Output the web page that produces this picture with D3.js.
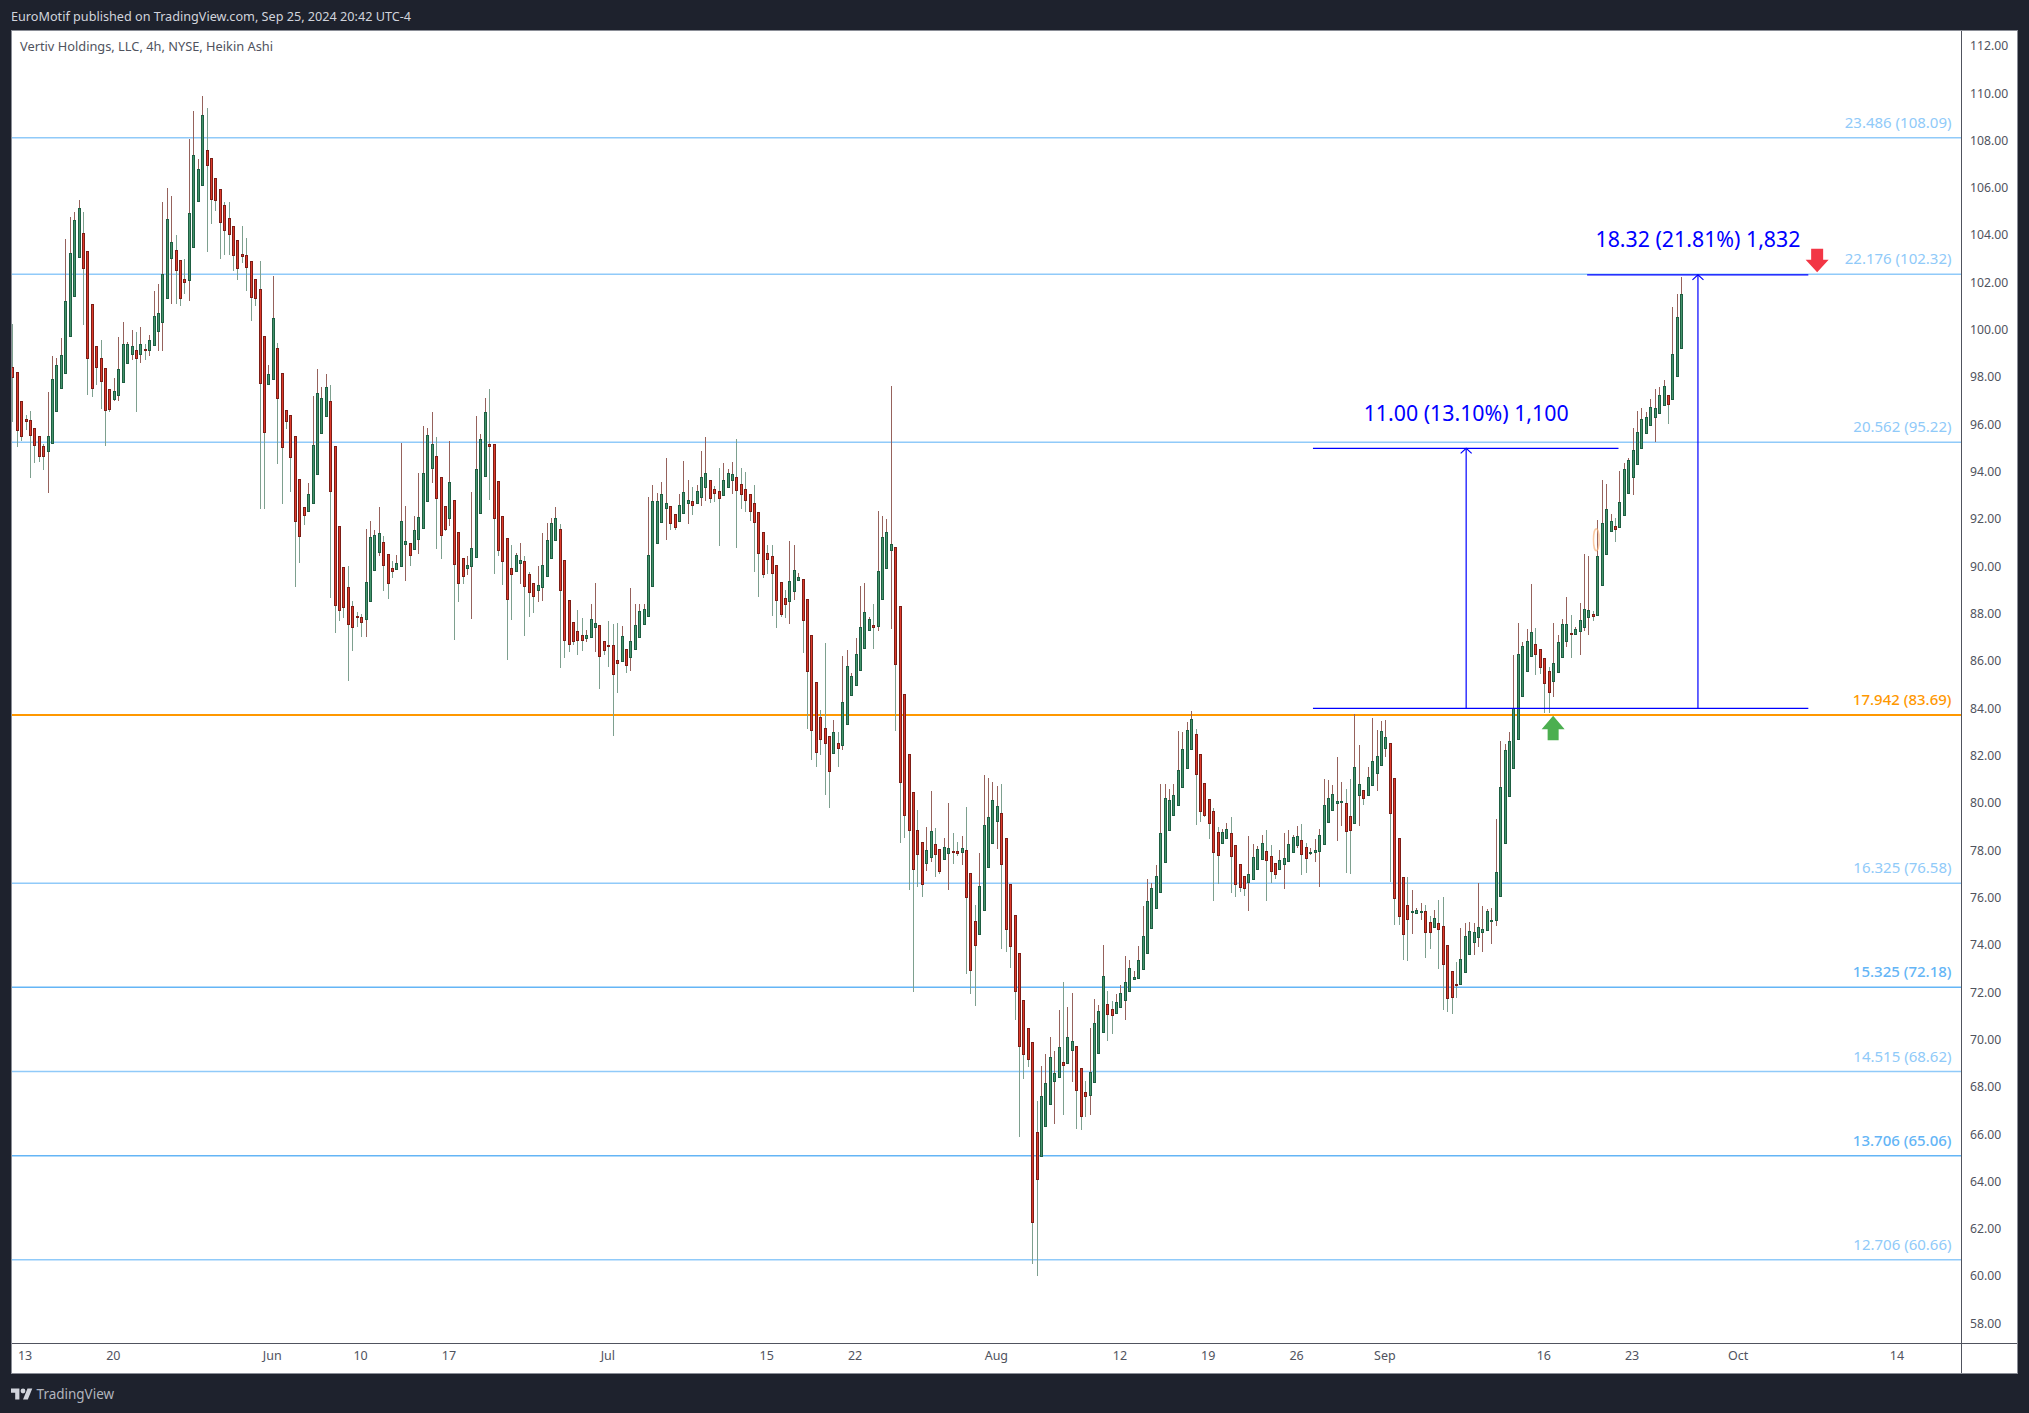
<!DOCTYPE html>
<html><head><meta charset="utf-8">
<script src="https://cdn.jsdelivr.net/npm/d3@7"></script>
<style>html,body{margin:0;padding:0;background:#1e222d}svg{display:block}text{font-family:"Noto Sans",sans-serif}</style>
</head><body><div id="c"></div>
<script>
const opens=[98.39,98.18,96.95,96.19,96.15,95.81,95.47,95.05,94.82,95.16,
96.51,97.49,98.16,99.68,101.41,103.02,104.05,103.29,101.05,99.27,
98.8,98.34,97.45,97.02,97.19,97.73,98.54,98.92,99.1,98.92,
99.14,99.08,99.3,99.89,100.27,101.29,102.98,103.33,102.9,102.1,
102.05,103.45,105.38,106.06,107.55,107.22,106.37,105.91,105.23,104.68,
104.34,103.75,103.16,103.12,102.86,102.1,101.68,99.69,97.67,97.88,
99.19,98.13,96.57,96.36,95.47,93.65,92.47,92.29,92.62,93.85,
95.58,96.3,96.95,95.05,91.67,89.93,89.09,88.28,87.88,87.82,
87.72,88.48,89.83,90.55,90.99,90.48,89.89,89.83,89.96,90.89,
90.95,90.68,91.1,91.57,92.71,94.1,94.63,93.74,92.51,91.99,
92.77,91.41,90.31,89.9,89.96,90.34,92.2,93.77,95.13,95.13,
93.57,92.09,91.16,89.89,89.75,90.09,90.19,89.64,89.26,88.95,
89.07,89.54,90.3,91.06,91.54,90.23,88.54,87.61,87.23,87.06,
86.92,87.0,87.38,87.48,86.81,86.65,86.64,86.0,85.95,86.47,
86.12,86.45,86.96,87.51,87.85,89.12,90.93,91.82,92.41,92.51,
92.17,91.86,92.22,92.64,92.72,92.64,92.89,93.32,93.61,93.23,
93.15,92.98,93.32,93.61,93.74,93.44,93.23,93.02,92.64,92.26,
91.41,90.53,90.4,90.02,89.3,88.62,88.48,88.92,89.37,89.43,
88.58,87.06,85.07,83.59,83.13,82.79,82.07,82.49,82.41,83.28,
84.51,84.93,85.57,86.49,87.26,87.48,87.43,88.57,89.88,90.64,
90.78,88.28,84.57,82.04,80.44,78.82,78.32,77.41,77.67,78.24,
78.03,77.59,77.85,77.94,77.94,77.88,77.98,77.01,74.97,74.45,
75.44,77.25,78.3,79.19,79.55,78.48,76.54,75.23,73.62,71.63,
70.48,69.85,66.05,65.03,66.29,67.23,68.2,68.36,69.01,68.96,
69.51,69.69,68.75,67.75,67.65,68.15,69.38,70.27,71.47,71.25,
71.13,71.33,71.62,72.0,72.51,72.56,72.93,73.61,74.71,75.52,
76.2,77.46,78.82,79.45,79.87,80.63,81.44,82.23,82.88,82.04,
80.81,80.13,79.63,78.74,78.27,78.48,78.69,78.19,77.38,76.88,
76.62,76.78,77.2,77.6,77.93,77.72,77.43,77.2,77.38,77.51,
77.88,78.22,78.39,78.1,77.86,77.87,77.91,78.25,79.14,79.66,
79.98,80.03,79.99,79.41,79.1,80.28,80.5,80.32,80.72,81.21,
81.56,82.27,82.49,81.01,78.48,76.83,75.65,75.38,75.34,75.38,
75.39,74.93,74.7,74.88,74.76,73.95,72.86,72.32,72.29,72.8,
73.56,74.07,74.28,74.49,74.57,75.0,75.0,76.01,78.29,80.24,
81.42,82.68,84.46,85.52,86.15,86.67,86.46,86.08,85.53,85.1,
85.48,86.11,86.79,87.16,87.11,87.21,87.42,87.8,87.96,87.93,
89.16,90.47,91.44,91.66,91.61,92.11,93.09,93.76,94.31,94.95,
95.58,95.93,96.29,96.48,96.81,97.2,97.02,97.99,99.22];
const closes=[97.96,95.71,95.46,96.09,95.5,95.08,94.61,94.61,95.47,97.88,
98.47,98.89,101.2,103.2,104.61,105.1,102.55,98.75,97.48,98.37,
97.82,96.55,96.6,97.37,98.3,99.35,99.35,99.27,98.75,99.35,
99.08,99.52,100.54,100.66,102.31,104.64,103.67,102.47,101.29,101.96,
104.89,107.34,106.75,109.03,106.9,105.47,105.43,104.5,104.16,103.99,
103.1,102.55,103.06,102.6,101.33,101.29,97.71,95.63,98.09,100.45,
97.06,94.99,96.09,94.57,91.86,91.23,92.12,93.02,95.09,97.29,
97.08,97.54,93.13,88.31,88.14,88.23,87.51,87.38,87.83,87.59,
89.3,91.2,91.29,91.37,90.0,89.24,89.75,90.1,91.88,91.03,
90.43,91.5,92.05,93.91,95.51,95.13,92.84,91.27,91.53,93.53,
90.05,89.24,89.54,90.03,90.74,94.08,95.34,96.49,95.06,91.99,
90.64,90.17,88.57,89.62,90.44,90.23,89.12,88.86,88.69,89.17,
90.02,91.07,91.79,92.0,88.95,86.83,86.66,86.79,86.83,86.83,
87.06,87.74,87.57,86.16,86.45,86.61,85.4,85.86,87.02,85.78,
86.81,87.48,88.07,88.16,90.44,92.72,92.72,93.02,92.64,91.78,
91.61,92.55,93.1,92.77,92.55,93.15,93.74,93.91,92.85,93.06,
92.85,93.61,93.91,93.86,93.19,93.02,92.77,92.3,91.84,90.53,
89.62,90.27,89.68,88.52,87.93,88.36,89.34,89.81,89.51,87.68,
85.52,83.03,82.1,82.65,82.49,81.31,82.96,82.28,84.23,85.75,
85.33,86.26,87.4,88.03,87.74,87.38,89.76,91.2,91.41,90.91,
85.82,80.84,79.45,78.82,77.2,77.8,76.54,77.98,78.79,77.8,
77.12,78.11,78.06,77.91,77.86,78.06,75.99,72.93,73.95,76.46,
79.03,79.37,80.1,79.84,77.41,74.63,73.92,72.0,69.67,69.33,
69.17,62.23,64.06,67.57,68.12,69.22,68.54,69.64,68.88,70.06,
69.9,67.82,66.71,67.6,68.62,70.66,71.16,72.65,71.03,70.99,
71.58,71.93,72.4,72.99,72.6,73.33,74.34,75.82,76.38,76.88,
78.69,80.18,80.1,80.31,81.36,82.25,83.06,83.51,81.18,79.61,
79.45,79.11,77.88,77.75,78.74,78.87,77.72,76.54,76.39,76.36,
76.96,77.69,78.03,78.27,77.54,77.09,76.96,77.56,77.64,78.24,
78.53,78.58,77.79,77.62,77.9,77.97,78.6,79.9,80.17,80.34,
80.05,80.05,78.8,78.8,81.48,80.76,80.15,81.06,81.73,81.94,
83.0,82.75,79.52,75.94,75.17,74.41,75.04,75.41,75.45,75.41,
74.49,74.49,75.1,74.62,73.14,71.7,71.74,72.28,73.36,74.33,
74.55,74.5,74.72,74.63,75.39,75.03,77.04,80.63,82.21,82.58,
83.97,86.27,86.59,86.8,87.18,86.23,85.69,85.01,84.63,85.87,
86.76,87.52,87.52,87.11,87.31,87.69,88.16,88.11,87.89,90.41,
91.79,92.38,91.87,91.52,92.68,94.07,94.47,94.89,95.65,96.19,
96.27,96.69,96.65,97.22,97.6,96.81,98.93,100.5,101.49];
const highs=[100.21,98.18,96.95,96.37,96.54,95.81,95.47,95.13,97.34,98.87,
98.77,99.61,103.81,104.72,104.95,105.45,104.95,103.29,101.05,99.27,
99.53,98.34,97.45,97.94,99.67,100.3,99.44,99.96,99.88,100.1,
99.35,99.77,101.61,101.9,105.37,105.95,105.62,103.98,102.9,102.96,
108.03,109.22,107.19,109.85,109.33,107.22,106.37,105.91,105.39,105.39,
104.34,103.75,104.36,103.85,102.86,102.1,102.88,99.69,98.48,102.24,
99.4,98.13,96.57,96.36,95.47,93.65,92.47,93.48,97.18,98.32,
97.56,98.11,97.64,95.05,91.67,89.93,89.99,88.5,88.05,87.96,
91.55,91.88,91.5,92.47,91.24,90.48,90.2,90.45,95.19,92.53,
90.95,92.1,93.92,95.91,95.82,96.5,95.43,93.74,92.51,95.26,
92.77,91.41,90.31,90.41,93.12,96.33,95.57,97.09,97.47,95.13,
93.57,92.09,91.16,90.88,90.54,90.96,90.41,89.72,89.26,89.99,
91.38,91.81,92.02,92.47,91.77,90.23,88.54,87.61,88.12,87.79,
87.28,88.38,89.27,87.48,86.81,87.66,87.54,87.58,87.45,86.47,
89.06,88.38,88.38,88.38,92.91,93.41,93.08,93.54,94.55,92.51,
92.17,93.03,94.43,93.62,93.33,93.41,94.84,95.44,93.61,93.37,
94.13,94.34,94.09,94.39,95.36,94.13,93.96,93.02,93.41,92.26,
91.41,90.88,90.88,90.02,89.3,88.98,91.05,90.88,89.68,89.43,
88.58,87.06,85.07,83.9,86.72,82.79,83.48,82.98,86.19,86.44,
85.48,86.93,89.14,89.27,87.85,88.38,92.31,92.1,91.98,97.6,
90.78,88.28,84.57,82.04,80.44,79.69,78.32,78.96,80.49,78.92,
78.03,78.49,79.98,78.71,78.33,78.59,79.81,77.01,75.66,77.85,
81.17,81.02,80.87,80.7,80.78,78.48,76.54,75.23,73.62,71.63,
70.48,69.85,67.38,68.87,69.37,70.08,69.5,71.23,72.4,71.36,
71.93,69.69,68.75,68.22,70.48,71.7,71.42,73.98,72.04,71.6,
71.91,72.28,73.51,73.33,72.88,73.93,75.63,76.76,76.6,77.36,
80.78,80.78,80.55,80.78,83.03,82.98,83.41,83.87,83.09,82.04,
80.81,80.13,79.76,78.95,78.88,79.13,79.37,78.19,77.38,76.88,
78.59,78.25,78.16,78.62,78.83,78.2,77.43,78.0,78.71,78.83,
78.62,79.01,79.07,78.27,78.05,78.45,78.86,80.98,80.94,80.72,
81.9,80.86,80.56,80.98,83.73,82.42,80.5,81.48,83.56,83.06,
83.42,83.48,82.49,81.01,78.48,76.83,76.84,76.29,75.53,75.74,
75.66,75.19,75.45,75.87,76.0,73.95,72.86,73.25,74.69,74.9,
74.94,74.9,76.59,75.62,75.48,75.53,79.29,82.59,82.46,82.97,
86.23,87.56,86.76,87.31,89.23,87.35,86.46,86.08,85.73,87.56,
87.07,87.75,88.68,87.92,87.39,88.42,90.49,90.41,88.09,91.93,
93.62,93.45,92.19,92.0,94.0,94.33,94.55,95.81,96.53,96.65,
96.48,97.03,97.46,97.54,97.85,97.2,100.92,101.48,102.2];
const lows=[96.09,95.02,95.27,95.74,93.71,94.34,94.39,94.05,93.08,95.16,
96.51,97.49,98.16,99.68,101.41,103.02,100.17,97.22,97.14,97.64,
96.62,95.06,96.5,96.98,96.96,97.73,98.54,98.69,96.5,98.58,
98.69,98.87,99.3,99.08,99.08,101.29,101.06,101.06,100.97,101.48,
101.19,103.45,105.38,106.06,103.27,104.46,105.01,102.98,103.12,103.12,
102.47,102.07,102.78,101.61,100.34,100.97,92.4,92.4,97.67,97.88,
94.3,92.61,95.78,93.12,89.1,90.12,91.72,92.29,92.62,93.85,
95.58,96.3,88.64,87.16,87.66,87.79,85.13,86.4,87.41,86.99,
86.99,88.48,89.83,90.43,88.93,88.6,89.48,89.83,89.96,89.36,
89.99,90.68,90.5,91.57,92.71,93.5,90.71,90.29,91.47,91.68,
86.86,88.47,89.23,89.61,87.75,90.34,92.2,93.77,92.78,89.65,
90.43,89.19,86.02,87.71,89.75,89.23,87.03,87.83,88.0,88.47,
88.51,89.54,90.3,91.06,85.68,86.1,86.35,86.65,86.23,86.4,
86.78,87.0,86.35,84.79,86.23,85.72,82.8,84.62,85.95,85.47,
85.55,86.45,86.96,87.51,87.85,89.12,90.93,91.82,91.09,91.51,
91.51,91.86,92.22,91.77,92.15,92.64,92.53,92.74,92.65,92.69,
90.83,92.98,93.32,93.03,90.75,92.4,92.27,91.89,89.74,88.68,
89.48,89.65,87.88,87.37,87.83,87.79,87.54,88.55,89.37,86.31,
83.1,81.78,81.51,82.0,80.32,79.77,82.07,81.51,82.2,83.28,
84.51,84.93,85.57,86.49,87.26,86.48,87.24,88.57,89.88,87.33,
83.01,78.28,78.5,76.29,71.99,76.41,76.0,77.09,77.46,76.84,
76.97,77.59,76.29,77.4,77.75,77.33,72.75,71.91,71.39,74.45,
75.44,77.25,78.3,78.04,73.8,73.66,73.01,70.81,65.87,68.31,
68.8,60.5,59.98,65.03,66.29,67.23,66.42,68.36,66.78,68.96,
68.19,66.21,66.13,66.68,66.78,68.15,69.38,70.27,69.93,70.21,
71.13,71.33,70.78,72.0,72.51,72.56,72.93,73.61,74.71,75.52,
76.2,77.46,78.82,79.45,79.87,80.63,81.44,82.23,79.03,79.16,
79.37,78.46,75.84,76.55,78.27,78.48,76.18,76.0,76.21,76.05,
75.42,76.78,77.2,77.6,75.84,76.6,76.76,77.2,76.34,77.51,
77.88,78.07,76.93,77.01,77.77,77.49,76.43,78.25,79.14,79.66,
78.36,79.0,77.01,76.97,79.1,79.01,79.89,80.32,80.72,80.48,
81.56,81.92,76.65,74.81,74.81,73.33,73.29,74.43,75.28,75.03,
73.42,73.8,74.7,72.96,71.22,71.14,71.05,71.74,72.29,72.8,
73.56,73.55,73.88,73.67,74.57,74.01,74.77,76.01,78.29,80.24,
81.42,82.68,84.46,85.52,86.15,85.38,85.42,83.79,83.79,84.46,
85.48,86.11,86.58,86.11,87.11,86.23,87.22,87.07,87.68,87.93,
89.16,90.47,91.44,91.0,91.61,92.11,93.09,92.99,94.31,94.95,
95.58,95.93,95.23,96.48,96.81,95.98,97.02,97.99,99.22];

const levelRatios=["23.486","22.176","20.562","17.942","16.325","15.325","14.515","13.706","12.706"];
const levelPrices=[108.09,102.32,95.22,83.69,76.58,72.18,68.62,65.06,60.66];
const levelColors=["#90caf9","#90caf9","#90caf9","#ff9800","#90caf9","#64b5f6","#90caf9","#64b5f6","#90caf9"];
const priceTicks=[58,60,62,64,66,68,70,72,74,76,78,80,82,84,86,88,90,92,94,96,98,100,102,104,106,108,110,112];
const timeIdx=[3,23,59,79,99,135,171,191,223,251,271,291,311,347,367,391,427];
const timeLabels=["13","20","Jun","10","17","Jul","15","22","Aug","12","19","26","Sep","16","23","Oct","14"];
const measureBase=83.97;
const measureTop=[94.96,102.29];
const measureStart=[294.6,356.7];
const measureEnd=[363.8,406.8];
const measureMid=[329.3,381.8];
const measureLabels=["11.00 (13.10%) 1,100","18.32 (21.81%) 1,832"];

const W=2029,H=1413,PL=12,PR=1961,PT=31,PB=1343;
const x=d3.scaleLinear().domain([0,427]).range([12.3,12.3+4.415*427]);
const y=d3.scaleLinear().domain([58,112]).range([1322.8,45.2]);
const svg=d3.select("#c").append("svg").attr("width",W).attr("height",H).attr("viewBox",`0 0 ${W} ${H}`);
svg.append("rect").attr("width",W).attr("height",H).attr("fill","#1e222d");
svg.append("rect").attr("x",11.5).attr("y",30.5).attr("width",2006).attr("height",1343).attr("fill","#fff").attr("stroke","#8a8d96");
svg.append("defs").append("clipPath").attr("id","p").append("rect").attr("x",PL).attr("y",PT).attr("width",PR-PL).attr("height",PB-PT);
const pane=svg.append("g").attr("clip-path","url(#p)");

pane.selectAll("line.lv").data(levelPrices).join("line").attr("class","lv")
 .attr("x1",PL).attr("x2",PR).attr("y1",d=>y(d)).attr("y2",d=>y(d))
 .attr("stroke",(d,i)=>levelColors[i]).attr("stroke-width",(d,i)=>i===3?2:1.5);

const idx=d3.range(opens.length);
const isUp=i=>closes[i]>=opens[i];
const px=i=>Math.round(x(i));
pane.selectAll("line.w").data(idx).join("line").attr("class","w")
 .attr("x1",i=>px(i)+.5).attr("x2",i=>px(i)+.5).attr("y1",i=>y(highs[i])).attr("y2",i=>y(lows[i]))
 .attr("stroke",i=>isUp(i)?"#96625c":"#7ea08f").attr("stroke-width",1).attr("shape-rendering","crispEdges");
pane.selectAll("rect.b").data(idx).join("rect").attr("class","b")
 .attr("x",i=>px(i)-.5).attr("width",2)
 .attr("y",i=>Math.round(y(Math.max(opens[i],closes[i])))+.5)
 .attr("height",i=>Math.max(1,Math.round(Math.abs(y(opens[i])-y(closes[i])))))
 .attr("fill",i=>isUp(i)?"#43936b":"#dc3a2b").attr("stroke",i=>isUp(i)?"#1e5e42":"#7c1d16").attr("stroke-width",1)
 .attr("shape-rendering","crispEdges");

pane.append("ellipse").attr("cx",x(359)-1).attr("cy",y(91.1)).attr("rx",2.8).attr("ry",11)
 .attr("fill","none").attr("stroke","#f7b27a").attr("stroke-width",1.5).attr("opacity",.7);

const blue="#0000ff";
pane.append("line").attr("x1",x(294.6)).attr("x2",x(406.8)).attr("y1",y(measureBase)).attr("y2",y(measureBase))
 .attr("stroke",blue).attr("stroke-width",1.2);
measureTop.forEach((t,k)=>{
  const g=pane.append("g").attr("stroke",blue).attr("fill","none").attr("stroke-width",1.2);
  g.append("line").attr("x1",x(measureStart[k])).attr("x2",x(measureEnd[k])).attr("y1",y(t)).attr("y2",y(t));
  const m=x(measureMid[k]);
  g.append("line").attr("x1",m).attr("x2",m).attr("y1",y(measureBase)).attr("y2",y(t));
  g.append("path").attr("d",d3.line()([[m-5.5,y(t)+5],[m,y(t)],[m+5.5,y(t)+5]]));
  pane.append("text").attr("x",m).attr("y",y(t)-(k===0?27:28)).attr("text-anchor","middle")
   .attr("font-size",21.5).attr("fill",blue).attr("textLength",205).attr("lengthAdjust","spacingAndGlyphs").text(measureLabels[k]);
});

// up and down arrows
const upArrow=(cx,tip)=>[[cx,tip],[cx+11.5,tip+13.5],[cx+5.5,tip+13.5],[cx+5.5,tip+24.5],[cx-5.5,tip+24.5],[cx-5.5,tip+13.5],[cx-11.5,tip+13.5]];
const dnArrow=(cx,tip)=>[[cx,tip],[cx+11.5,tip-12.5],[cx+6,tip-12.5],[cx+6,tip-23.5],[cx-6,tip-23.5],[cx-6,tip-12.5],[cx-11.5,tip-12.5]];
pane.append("path").attr("d",d3.line().curve(d3.curveLinearClosed)(upArrow(x(349),y(83.66)))).attr("fill","#4caf50");
pane.append("path").attr("d",d3.line().curve(d3.curveLinearClosed)(dnArrow(x(408.8),y(102.4)))).attr("fill","#f23645");

pane.selectAll("text.lv").data(levelPrices).join("text").attr("class","lv")
 .attr("x",1951.5).attr("y",d=>y(d)-10).attr("text-anchor","end").attr("font-size",15)
 .attr("fill",(d,i)=>levelColors[i]).attr("font-weight",(d,i)=>(i===3||i===5||i===7)?500:400)
 .text((d,i)=>`${levelRatios[i]} (${d.toFixed(2)})`);

// axes
svg.append("line").attr("x1",PR+.5).attr("x2",PR+.5).attr("y1",PT).attr("y2",1373).attr("stroke","#50535e");
svg.append("line").attr("x1",PL).attr("x2",2017).attr("y1",PB+.5).attr("y2",PB+.5).attr("stroke","#50535e");
const ya=svg.append("g").attr("transform",`translate(${PR},0.6)`)
 .call(d3.axisRight(y).tickValues(priceTicks).tickSize(0).tickPadding(9).tickFormat(d=>d.toFixed(2)));
ya.select(".domain").remove();
ya.selectAll("text").attr("font-size",12.2).attr("fill","#50535e").style("font-family",'"Noto Sans",sans-serif');
const xa=svg.append("g").attr("transform",`translate(-1,${PB})`)
 .call(d3.axisBottom(x).tickValues(timeIdx).tickSize(0).tickPadding(8).tickFormat((d,i)=>timeLabels[i]));
xa.select(".domain").remove();
xa.selectAll("text").attr("font-size",12.5).attr("fill","#50535e").style("font-family",'"Noto Sans",sans-serif');

// header, legend and footer
svg.append("text").attr("x",11).attr("y",20.5).attr("font-size",12.5).attr("fill","#d1d4dc").attr("textLength",400).attr("lengthAdjust","spacingAndGlyphs").text("EuroMotif published on TradingView.com, Sep 25, 2024 20:42 UTC-4");
svg.append("text").attr("x",20).attr("y",51).attr("font-size",12.5).attr("fill","#50535e").attr("textLength",253).attr("lengthAdjust","spacingAndGlyphs").text("Vertiv Holdings, LLC, 4h, NYSE, Heikin Ashi");
const logo=svg.append("g").attr("transform","translate(11,1386.2) scale(.6)").attr("fill","#d1d4dc");
logo.append("path").attr("d","M14 22H7V11H0V4h14v18zM28 22h-8l7.5-18h8L28 22z");
logo.append("circle").attr("cx",20).attr("cy",8).attr("r",4);
svg.append("text").attr("x",36.6).attr("y",1399).attr("font-size",15).attr("fill","#b2b5be").attr("textLength",77.5).attr("lengthAdjust","spacingAndGlyphs").text("TradingView");
</script></body></html>
